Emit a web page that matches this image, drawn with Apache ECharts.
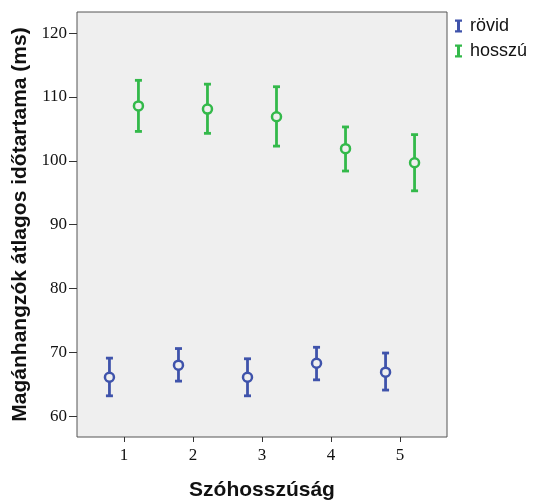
<!DOCTYPE html>
<html>
<head>
<meta charset="utf-8">
<script src="https://cdn.jsdelivr.net/npm/echarts@6/dist/echarts.min.js"></script>
<style>
  html, body { margin: 0; padding: 0; background: #fff; }
  #chart { width: 533px; height: 500px; }
</style>
</head>
<body>
<div id="chart"></div>
<script>
// Word length groups (x axis)
const categories = [1, 2, 3, 4, 5];
const xTickLabels = ['1', '2', '3', '4', '5'];
const yTickValues = [60, 70, 80, 90, 100, 110, 120];

// Short vowels: means and error-bar bounds
const rovidMean = [66.1, 68.0, 66.1, 68.3, 66.9];
const rovidLow  = [63.2, 65.5, 63.2, 65.7, 64.1];
const rovidHigh = [69.1, 70.6, 69.0, 70.8, 69.9];

// Long vowels: means and error-bar bounds
const hosszuMean = [108.6, 108.1, 106.9, 101.9, 99.7];
const hosszuLow  = [104.6, 104.3, 102.3, 98.4, 95.3];
const hosszuHigh = [112.6, 112.0, 111.6, 105.3, 104.1];

const BLUE = '#3f53ab';
const GREEN = '#33b94a';
const SHIFT = 0.21; // side-by-side offset of the two groups within a category

function errorData(shift, low, high) {
  return categories.map((c, i) => [c + shift, low[i], high[i]]);
}
function meanData(shift, mean) {
  return categories.map((c, i) => [c + shift, mean[i]]);
}

function renderErrorBar(color) {
  return function (params, api) {
    const x = api.value(0);
    const top = api.coord([x, api.value(2)]);
    const bot = api.coord([x, api.value(1)]);
    const half = 3.5;
    const style = { stroke: color, lineWidth: 2.8 };
    return {
      type: 'group',
      children: [
        { type: 'line', shape: { x1: top[0], y1: top[1], x2: bot[0], y2: bot[1] }, style },
        { type: 'line', shape: { x1: top[0] - half, y1: top[1], x2: top[0] + half, y2: top[1] }, style },
        { type: 'line', shape: { x1: bot[0] - half, y1: bot[1], x2: bot[0] + half, y2: bot[1] }, style }
      ]
    };
  };
}

// "I"-shaped legend glyph: caps with a thick stem
const legendIcon = 'path://M0,0 H7 V2.2 H5 V10.8 H7 V13 H0 V10.8 H2 V2.2 H0 Z';

const chart = echarts.init(document.getElementById('chart'), null, { renderer: 'canvas' });
chart.setOption({
  animation: false,
  backgroundColor: '#ffffff',
  grid: {
    left: 77, top: 12, right: 86, bottom: 63,
    outerBoundsMode: 'none',
    containLabel: false,
    show: true,
    backgroundColor: '#efefef',
    borderColor: '#555555',
    borderWidth: 1
  },
  legend: {
    left: 455, top: 17,
    padding: 0,
    orient: 'vertical',
    itemWidth: 7, itemHeight: 13,
    itemGap: 7,
    textStyle: { fontFamily: 'Liberation Sans, Arial, sans-serif', fontSize: 18, color: '#111', padding: [0, 0, 0, 3] },
    data: [
      { name: 'rövid', icon: legendIcon, itemStyle: { color: BLUE, borderWidth: 0 } },
      { name: 'hosszú', icon: legendIcon, itemStyle: { color: GREEN, borderWidth: 0 } }
    ]
  },
  xAxis: {
    type: 'value',
    min: 0.32, max: 5.68,
    name: 'Szóhosszúság',
    nameLocation: 'middle',
    nameGap: 43,
    nameTextStyle: { fontFamily: 'Liberation Sans, Arial, sans-serif', fontWeight: 'bold', fontSize: 21, color: '#111' },
    axisLine: { show: false },
    splitLine: { show: false },
    axisTick: { show: true, length: 5, lineStyle: { color: '#333' }, customValues: categories },
    axisLabel: {
      customValues: categories,
      formatter: v => xTickLabels[categories.indexOf(v)] || '',
      margin: 10,
      fontFamily: 'Liberation Serif, Times New Roman, serif', fontSize: 17, color: '#111'
    }
  },
  yAxis: {
    type: 'value',
    min: 56.75, max: 123.3,
    name: 'Magánhangzók átlagos időtartama (ms)',
    nameLocation: 'middle',
    nameGap: 45,
    nameRotate: 90,
    nameTextStyle: { fontFamily: 'Liberation Sans, Arial, sans-serif', fontWeight: 'bold', fontSize: 21, color: '#111' },
    axisLine: { show: false },
    splitLine: { show: false },
    axisTick: { show: true, length: 8, lineStyle: { color: '#333' }, customValues: yTickValues },
    axisLabel: {
      customValues: yTickValues,
      margin: 10,
      fontFamily: 'Liberation Serif, Times New Roman, serif', fontSize: 17, color: '#111'
    }
  },
  series: [
    {
      name: 'rövid', type: 'custom', renderItem: renderErrorBar(BLUE),
      data: errorData(-SHIFT, rovidLow, rovidHigh), itemStyle: { color: BLUE },
      encode: { x: 0, y: [1, 2] }, z: 2
    },
    {
      name: 'hosszú', type: 'custom', renderItem: renderErrorBar(GREEN),
      data: errorData(SHIFT, hosszuLow, hosszuHigh), itemStyle: { color: GREEN },
      encode: { x: 0, y: [1, 2] }, z: 2
    },
    {
      name: 'rövid', type: 'scatter', symbol: 'circle', symbolSize: 9,
      data: meanData(-SHIFT, rovidMean),
      itemStyle: { color: '#efefef', borderColor: BLUE, borderWidth: 2.5, opacity: 1 }, z: 3
    },
    {
      name: 'hosszú', type: 'scatter', symbol: 'circle', symbolSize: 9,
      data: meanData(SHIFT, hosszuMean),
      itemStyle: { color: '#efefef', borderColor: GREEN, borderWidth: 2.5, opacity: 1 }, z: 3
    }
  ]
});
</script>
</body>
</html>
